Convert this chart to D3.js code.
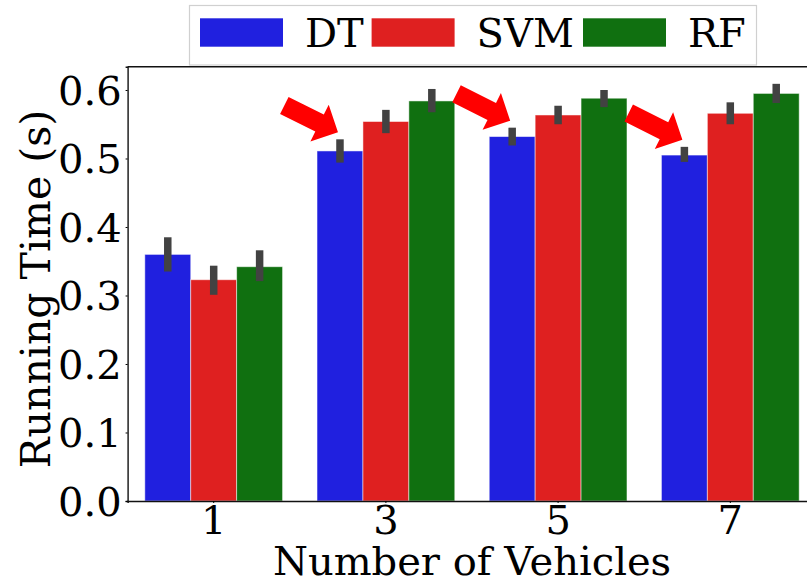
<!DOCTYPE html>
<html>
<head>
<meta charset="utf-8">
<script src="https://cdn.jsdelivr.net/npm/d3@7"></script>
<style>
  html, body { margin: 0; padding: 0; background: #fff; }
  svg { display: block; font-family: "DejaVu Serif", serif; }
</style>
</head>
<body>
<svg id="chart" width="807" height="580"></svg>
<script>
// Running time per classifier vs. number of vehicles (mean with 95% CI)
const vehicles = ["1", "3", "5", "7"];
const models = ["DT", "SVM", "RF"];
const modelColors = ["#2020df", "#df2020", "#107010"];

const dtMean  = [0.360, 0.511, 0.532, 0.505];
const svmMean = [0.323, 0.554, 0.5635, 0.566];
const rfMean  = [0.342, 0.584, 0.588, 0.595];

const dtLow   = [0.335, 0.494, 0.519, 0.495];
const dtHigh  = [0.385, 0.528, 0.545, 0.517];
const svmLow  = [0.301, 0.537, 0.550, 0.550];
const svmHigh = [0.3435, 0.571, 0.577, 0.582];
const rfLow   = [0.321, 0.5675, 0.575, 0.581];
const rfHigh  = [0.366, 0.6015, 0.600, 0.609];

const yTicks = [0.0, 0.1, 0.2, 0.3, 0.4, 0.5, 0.6];
const yMax = 0.634;

// Categories where the DT bar is highlighted with an arrow
const highlighted = ["3", "5", "7"];

const means = [dtMean, svmMean, rfMean];
const lows = [dtLow, svmLow, rfLow];
const highs = [dtHigh, svmHigh, rfHigh];

const rows = [];
models.forEach((m, i) => {
  vehicles.forEach((v, j) => {
    rows.push({ model: m, vehicle: v, mean: means[i][j], lo: lows[i][j], hi: highs[i][j] });
  });
});

const svg = d3.select("#chart");
const plot = { left: 127.6, right: 816.4, top: 66.7, bottom: 501 };

const x = d3.scaleBand().domain(vehicles)
  .range([plot.left, plot.right]).paddingInner(0.2).paddingOuter(0.1);
const xInner = d3.scaleBand().domain(models).range([0, x.bandwidth()]);
const y = d3.scaleLinear().domain([0, yMax]).range([plot.bottom, plot.top]);
const color = d3.scaleOrdinal().domain(models).range(modelColors);

// Bars
svg.append("g").selectAll("rect").data(rows).join("rect")
  .attr("x", d => x(d.vehicle) + xInner(d.model))
  .attr("y", d => y(d.mean))
  .attr("width", xInner.bandwidth())
  .attr("height", d => y(0) - y(d.mean))
  .attr("fill", d => color(d.model))
  .attr("stroke", "#ffffff")
  .attr("stroke-opacity", 0.55)
  .attr("stroke-width", 0.9);

// Confidence interval bars
svg.append("g").selectAll("line").data(rows).join("line")
  .attr("x1", d => x(d.vehicle) + xInner(d.model) + xInner.bandwidth() / 2)
  .attr("x2", d => x(d.vehicle) + xInner(d.model) + xInner.bandwidth() / 2)
  .attr("y1", d => y(d.lo))
  .attr("y2", d => y(d.hi))
  .attr("stroke", "#424242")
  .attr("stroke-width", 7.5);

// Y axis
const yAxis = svg.append("g")
  .attr("transform", `translate(${plot.left},0)`)
  .call(d3.axisLeft(y).tickValues(yTicks).tickFormat(d3.format(".1f")).tickSize(2).tickPadding(4));
yAxis.select(".domain").attr("stroke", "#111").attr("stroke-width", 1.4);
yAxis.selectAll("text").attr("font-size", 40).attr("fill", "#000")
  .attr("font-family", "DejaVu Serif").attr("dy", "0.36em");

// X axis
const xAxis = svg.append("g")
  .attr("transform", `translate(0,${plot.bottom})`)
  .call(d3.axisBottom(x).tickSize(2).tickPadding(3));
xAxis.select(".domain").attr("stroke", "#111").attr("stroke-width", 1.4);
xAxis.selectAll("text").attr("font-size", 40).attr("fill", "#000")
  .attr("font-family", "DejaVu Serif");

// Top spine
svg.append("line")
  .attr("x1", plot.left).attr("x2", plot.right)
  .attr("y1", plot.top).attr("y2", plot.top)
  .attr("stroke", "#111").attr("stroke-width", 1.4);

// Axis titles
svg.append("text")
  .attr("x", (plot.left + plot.right) / 2).attr("y", 575)
  .attr("text-anchor", "middle").attr("font-size", 40)
  .text("Number of Vehicles");

svg.append("text")
  .attr("transform", "translate(50,289) rotate(-90)")
  .attr("text-anchor", "middle").attr("font-size", 41)
  .text("Running Time (s)");

// Arrows pointing at the DT bars
const ang = Math.atan2(27, 54) * 180 / Math.PI;
const arrowShape = [[-60, -9.5], [-20.6, -9.5], [-20.6, -20.5], [0, 0], [-20.6, 20.5], [-20.6, 9.5], [-60, 9.5]];
const dtIndex = models.indexOf("DT");
svg.append("g").selectAll("polygon").data(highlighted).join("polygon")
  .attr("points", arrowShape.map(p => p.join(",")).join(" "))
  .attr("transform", v => {
    const j = vehicles.indexOf(v);
    const tx = x(v) + xInner("DT") + xInner.bandwidth() / 2 - 2;
    const ty = y(highs[dtIndex][j]) - 7;
    return `translate(${tx},${ty}) rotate(${ang})`;
  })
  .attr("fill", "#ff0000");

// Legend
const legend = svg.append("g");
legend.append("rect")
  .attr("x", 189.5).attr("y", 5.5).attr("width", 567).attr("height", 59.5)
  .attr("fill", "#fff").attr("fill-opacity", 0.85)
  .attr("stroke", "#d0d0d0").attr("stroke-width", 1.2);
const legendX = [200, 371.6, 583];
models.forEach((m, i) => {
  legend.append("rect")
    .attr("x", legendX[i]).attr("y", 18.3)
    .attr("width", 83).attr("height", 28.4)
    .attr("fill", color(m));
  legend.append("text")
    .attr("x", legendX[i] + 105).attr("y", 46.7)
    .attr("font-size", 40).attr("fill", "#000")
    .text(m);
});
</script>
</body>
</html>
